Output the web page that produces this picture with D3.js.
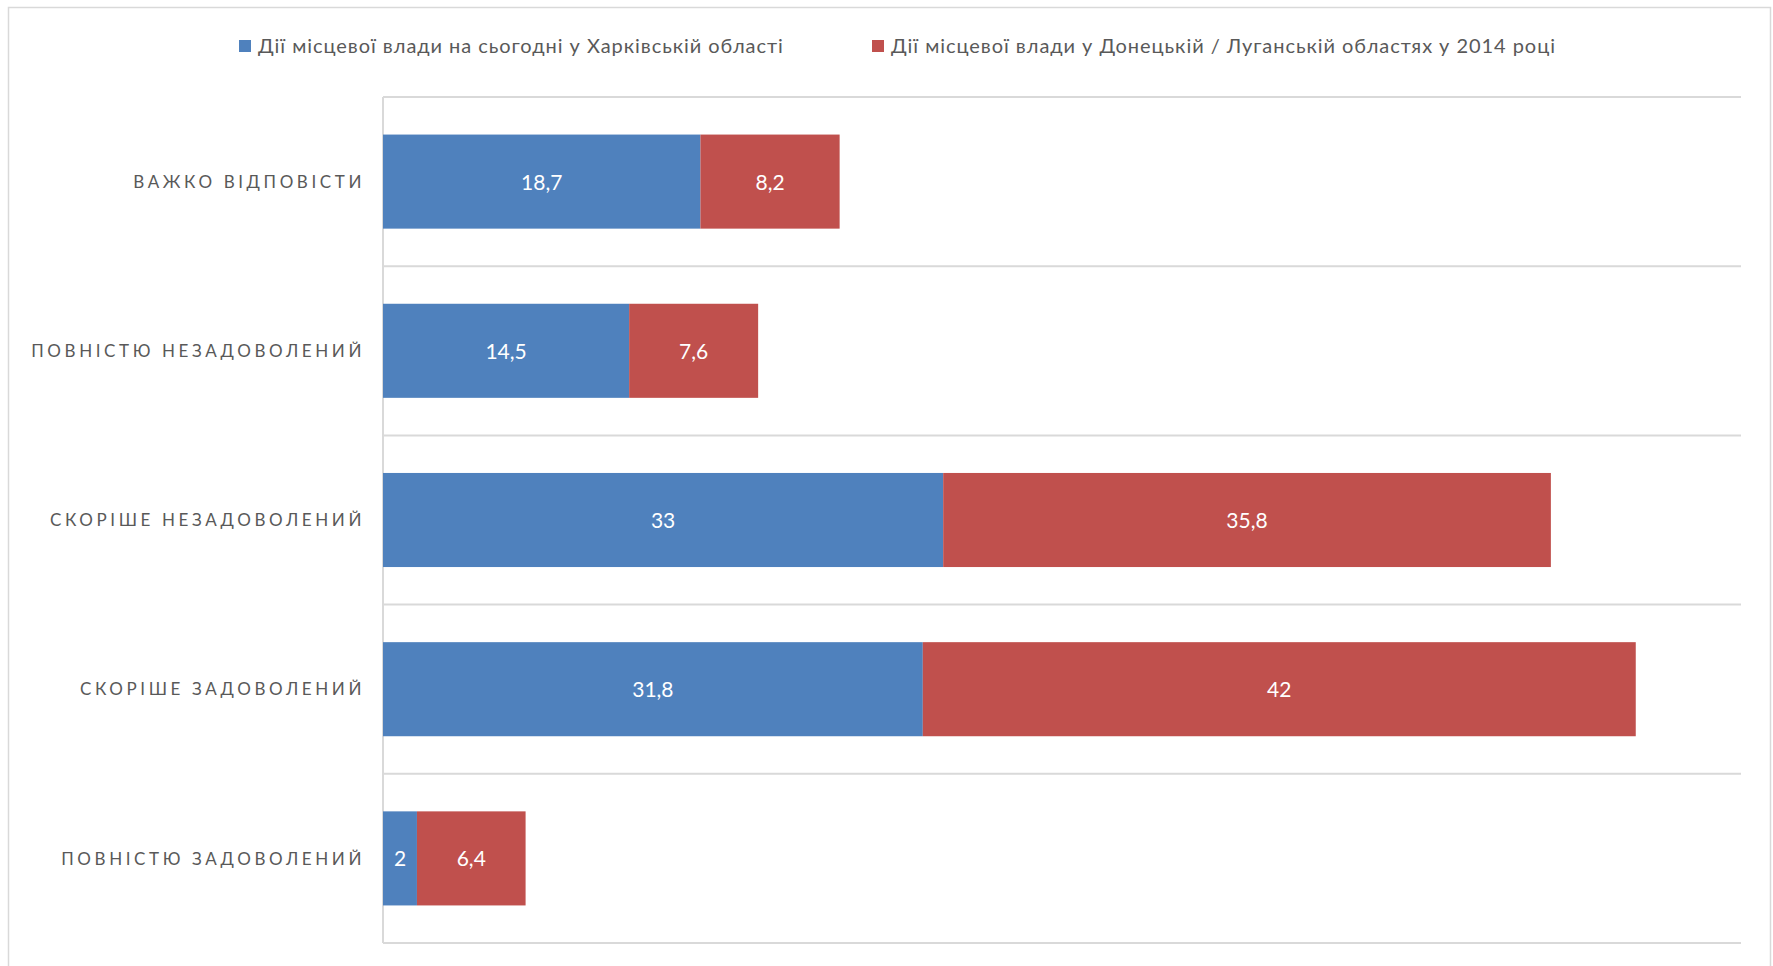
<!DOCTYPE html>
<html>
<head>
<meta charset="utf-8">
<script src="https://cdn.jsdelivr.net/npm/d3@7"></script>
<style>
  body { margin: 0; background: #fff; }
  svg { font-family: Lato, "Open Sans", sans-serif; }
</style>
</head>
<body>
<svg id="chart" width="1773" height="966"></svg>
<script>
const categories = ["ВАЖКО ВІДПОВІСТИ", "ПОВНІСТЮ НЕЗАДОВОЛЕНИЙ", "СКОРІШЕ НЕЗАДОВОЛЕНИЙ", "СКОРІШЕ ЗАДОВОЛЕНИЙ", "ПОВНІСТЮ ЗАДОВОЛЕНИЙ"];
const kharkiv = [18.7, 14.5, 33, 31.8, 2];
const donbas2014 = [8.2, 7.6, 35.8, 42, 6.4];
const seriesNames = ["Дії місцевої влади на сьогодні у Харківській області", "Дії місцевої влади у Донецькій / Луганській областях у 2014 році"];
const xMax = 80;

const colors = ["#4f81bd", "#c0504d"];
const plot_l = 383, plot_r = 1741, plot_t = 97, plot_b = 943;

var svg = d3.select("#chart");

// chart frame
svg.append("rect")
    .attr("x", 8.5).attr("y", 7.5)
    .attr("width", 1762).attr("height", 975)
    .attr("fill", "none").attr("stroke", "#d9d9d9").attr("stroke-width", 1.5);

var x = d3.scaleLinear().domain([0, xMax]).range([plot_l, plot_r]);
var y = d3.scaleBand().domain(categories).range([plot_t, plot_b]).paddingInner(0.444).paddingOuter(0.222);

/* band boundaries as gridlines */
var bounds = d3.range(categories.length + 1).map((i) => plot_t + i * y.step());
svg.selectAll("line.grid")
    .data(bounds)
    .enter()
    .append("line")
    .attr("class", "grid")
    .attr("x1", plot_l).attr("x2", plot_r)
    .attr("y1", (d) => d).attr("y2", (d) => d)
    .attr("stroke", "#d9d9d9").attr("stroke-width", 2);

svg.append("line")
    .attr("x1", plot_l).attr("x2", plot_l)
    .attr("y1", plot_t).attr("y2", plot_b)
    .attr("stroke", "#d9d9d9").attr("stroke-width", 2);

// stack the two series
var rows = categories.map((c, i) => ({cat: c, a: kharkiv[i], b: donbas2014[i]}));
var stacked = d3.stack().keys(["a", "b"])(rows);

var layers = svg.selectAll("g.layer")
    .data(stacked)
    .enter()
    .append("g")
    .attr("fill", (d, i) => colors[i]);

layers.selectAll("rect")
    .data((d) => d)
    .enter()
    .append("rect")
    .attr("x", (d) => x(d[0]))
    .attr("y", (d) => y(d.data.cat))
    .attr("width", (d) => x(d[1]) - x(d[0]))
    .attr("height", y.bandwidth());

layers.selectAll("text")
    .data((d) => d)
    .enter()
    .append("text")
    .attr("x", (d) => (x(d[0]) + x(d[1])) / 2)
    .attr("y", (d) => y(d.data.cat) + y.bandwidth() / 2)
    .attr("dy", "0.38em")
    .attr("text-anchor", "middle")
    .attr("fill", "#fff")
    .attr("font-size", 21)
    .text((d) => String(+(d[1] - d[0]).toFixed(1)).replace(".", ","));

// category labels
svg.selectAll("text.cat")
    .data(categories)
    .enter()
    .append("text")
    .attr("class", "cat")
    .attr("x", 365)
    .attr("y", (d) => y(d) + y.bandwidth() / 2)
    .attr("dy", "0.36em")
    .attr("text-anchor", "end")
    .attr("fill", "#595959")
    .attr("font-size", 17)
    .attr("letter-spacing", 3.6)
    .text((d) => d);

// legend
var legendX = [239, 872];
var legend = svg.selectAll("g.legend")
    .data(seriesNames)
    .enter()
    .append("g")
    .attr("transform", (d, i) => "translate(" + legendX[i] + ",46)");
legend.append("rect")
    .attr("x", 0).attr("y", -6)
    .attr("width", 12).attr("height", 12)
    .attr("fill", (d, i) => colors[i]);
legend.append("text")
    .attr("x", 19)
    .attr("dy", "0.36em")
    .attr("fill", "#595959")
    .attr("font-size", 20)
    .attr("letter-spacing", 0.95)
    .text((d) => d);
</script>
</body>
</html>
